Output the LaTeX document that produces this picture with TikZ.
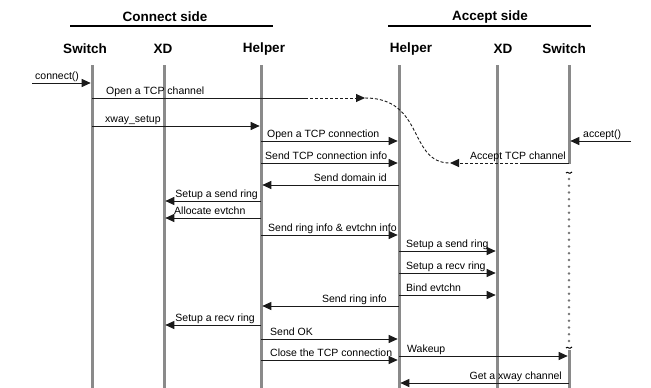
\documentclass[tikz,border=0pt]{standalone}
\usepackage{fontspec}
\setmainfont{Liberation Sans}
\usetikzlibrary{arrows.meta}

\definecolor{lifegray}{HTML}{8A8A8A}
\definecolor{msgcol}{HTML}{1A1A1A}

\tikzset{
  lifeline/.style={draw=lifegray, line width=3pt},
  msgline/.style={draw=msgcol, line width=0.9pt},
  msg/.style={msgline, -{Triangle[length=9pt,width=8pt]}, shorten >=1.3pt},
  dashmsg/.style={msgline, dash pattern=on 3pt off 2pt},
  lblR/.style={anchor=base west, inner sep=0pt, font=\fontsize{10.5}{12}\selectfont},
  lblL/.style={anchor=base east, inner sep=0pt, font=\fontsize{10.5}{12}\selectfont},
  hdr/.style={inner sep=0pt, font=\bfseries\fontsize{13.5}{16}\selectfont},
  sidebar/.style={draw=black, line width=1.6pt},
  squiggle/.style={draw=black, line width=1pt},
  waitdot/.style={fill=lifegray!85!black, draw=none},
}

% message from lifeline #1 to lifeline #2 at height #3
\newcommand{\seqmsg}[3]{\draw[msg] (#1 |- 0,#3) -- (#2 |- 0,#3);}

\begin{document}
\begin{tikzpicture}[x=1pt, y=-1pt]
\useasboundingbox (0,0) rectangle (651,388);

% side titles
\node[hdr] (connside) at (165,17) {Connect side};
\node[hdr] (acptside) at (490,17) {Accept side};
\draw[sidebar] (70,26) -- (273,26);
\draw[sidebar] (388,26) -- (591,26);

% participants
\node[hdr] (hSwL) at (85,49) {Switch};
\node[hdr] (hXdL) at (163,49) {XD};
\node[hdr] (hHpL) at (264,49) {Helper};
\node[hdr] (hHpR) at (411,49) {Helper};
\node[hdr] (hXdR) at (503,49) {XD};
\node[hdr] (hSwR) at (564,49) {Switch};

% lifeline tops
\coordinate (swL) at (92,65);
\coordinate (xdL) at (164,65);
\coordinate (hpL) at (261,65);
\coordinate (hpR) at (399,65);
\coordinate (xdR) at (497,65);
\coordinate (swR) at (569,65);

% lifelines
\foreach \c in {swL,xdL,hpL,hpR,xdR}
  \draw[lifeline] (\c) -- (\c |- 0,388);
\draw[lifeline] (swR) -- (swR |- 0,164);
% the accept-side switch waits: dotted stretch of its lifeline
\foreach \k in {0,...,24}
  \fill[waitdot] (swR |- 0,{179+6.75*\k}) circle[radius=1.3pt];
\draw[lifeline] (swR |- 0,350) -- (swR |- 0,388);
% breaks in the accept-side switch lifeline
\draw[squiggle] (566,173) .. controls (567.5,170.5) and (569,175.5) .. (572,172);
\draw[squiggle] (566,348) .. controls (567.5,345.5) and (569,350.5) .. (572,347);

% connect() entry
\coordinate (cstart) at (32,83);
\draw[msg] (cstart) -- (swL |- cstart);
\node[lblR] (lconn) at (35,79) {connect()};

% TCP channel set-up between the two switches
\coordinate (tcpA) at (305,98);
\coordinate (tcpB) at (365,98);
\coordinate (tcpC) at (450,163);
\coordinate (tcpD) at (523,163);
\draw[msgline] (swL |- tcpA) -- (tcpA);
\draw[dashmsg, -{Triangle[length=9pt,width=8pt]}] (tcpA) -- (tcpB);
\node[lblR] (lopench) at (106,94) {Open a TCP channel};
\draw[dashmsg] (tcpB) .. controls (425,98) and (408,163) .. (tcpC);
\draw[msgline] (swR |- tcpD) -- (tcpD);
\draw[dashmsg, -{Triangle[length=9pt,width=8pt]}] (tcpD) -- (tcpC);
\node[lblL] (lacptch) at (566,159) {Accept TCP channel};

% accept() entry
\coordinate (astart) at (631,141);
\draw[msg] (astart) -- (swR |- astart);
\node[lblR] (lacpt) at (583,137) {accept()};

% connect side messages
\seqmsg{swL}{hpL}{126}
\node[lblR] (l1) at (105,122) {xway\_setup};
\seqmsg{hpL}{hpR}{141}
\node[lblR] (l2) at (267,137.5) {Open a TCP connection};
\seqmsg{hpL}{hpR}{163}
\node[lblR] (l3) at (265,159) {Send TCP connection info};
\seqmsg{hpR}{hpL}{185}
\node[lblL] (l4) at (387,181) {Send domain id};
\seqmsg{hpL}{xdL}{201}
\node[lblL] (l5) at (258,197) {Setup a send ring};
\seqmsg{hpL}{xdL}{218}
\node[lblR] (l6) at (174,214) {Allocate evtchn};
\seqmsg{hpL}{hpR}{235}
\node[lblR] (l7) at (268,231) {Send ring info \& evtchn info};

% accept side ring set-up
\seqmsg{hpR}{xdR}{251}
\node[lblR] (l8) at (406,247) {Setup a send ring};
\seqmsg{hpR}{xdR}{273}
\node[lblR] (l9) at (406,269) {Setup a recv ring};
\seqmsg{hpR}{xdR}{295}
\node[lblR] (l10) at (406,291) {Bind evtchn};
\seqmsg{hpR}{hpL}{306}
\node[lblL] (l11) at (387,302) {Send ring info};

% completion
\seqmsg{hpL}{xdL}{325}
\node[lblL] (l12) at (255,321) {Setup a recv ring};
\seqmsg{hpL}{hpR}{339}
\node[lblR] (l13) at (270,335) {Send OK};
\seqmsg{hpL}{hpR}{360}
\node[lblR] (l14) at (270,356) {Close the TCP connection};
\seqmsg{hpR}{swR}{356}
\node[lblR] (l15) at (407,352) {Wakeup};
\seqmsg{swR}{hpR}{383}
\node[lblL] (l16) at (562,379) {Get a xway channel};
\end{tikzpicture}
\end{document}
